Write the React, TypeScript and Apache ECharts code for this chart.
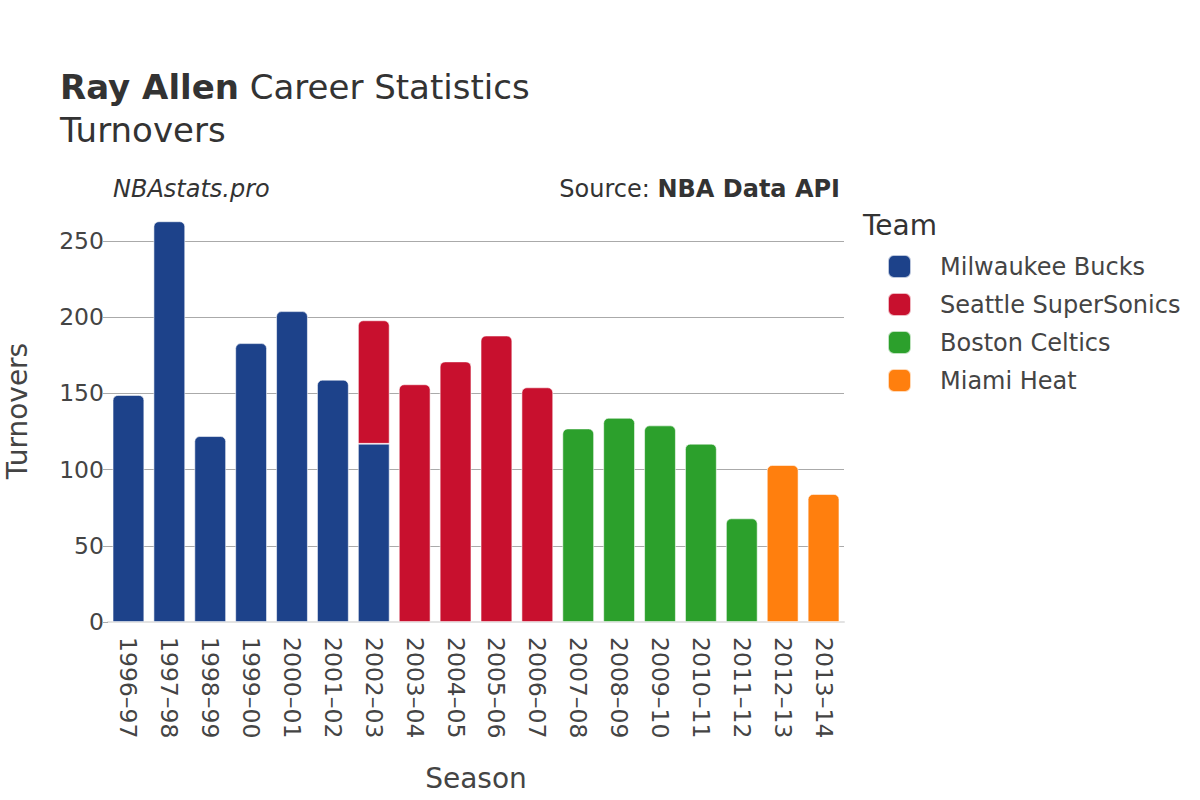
import React, { useEffect, useRef } from "react";
import * as echarts from "echarts";

const seasons = [
  "1996–97", "1997–98", "1998–99", "1999–00", "2000–01", "2001–02", "2002–03",
  "2003–04", "2004–05", "2005–06", "2006–07", "2007–08", "2008–09", "2009–10",
  "2010–11", "2011–12", "2012–13", "2013–14",
];
const teams = ["Milwaukee Bucks", "Seattle SuperSonics", "Boston Celtics", "Miami Heat"];
const teamColors = ["#1d428a", "#c8102e", "#2ca02c", "#ff7f0e"];
const milwaukee = [149, 263, 122, 183, 204, 159, 117, null, null, null, null, null, null, null, null, null, null, null];
const seattle = [null, null, null, null, null, null, 81, 156, 171, 188, 154, null, null, null, null, null, null, null];
const boston = [null, null, null, null, null, null, null, null, null, null, null, 127, 134, 129, 117, 68, null, null];
const miami = [null, null, null, null, null, null, null, null, null, null, null, null, null, null, null, null, 103, 84];
const yTicks = [0, 50, 100, 150, 200, 250];

const FONT = "DejaVu Sans";
const TXT = "#444";

export default function App() {
  const ref = useRef<HTMLDivElement>(null);
  useEffect(() => {
    if (!ref.current) return;
    const chart = echarts.init(ref.current, null, { renderer: "svg" });
    const seriesData = [milwaukee, seattle, boston, miami];
    const series = seriesData.map((arr, i) => ({
      name: teams[i],
      type: "bar",
      stack: "total",
      barCategoryGap: "22.6%",
      itemStyle: {
        color: teamColors[i],
        borderRadius: [5, 5, 0, 0],
        borderColor: "rgba(255,255,255,0.7)",
        borderWidth: 0.8,
      },
      data: arr.map((v, j) => {
        if (i === 0 && j === 6) return { value: v, itemStyle: { borderRadius: 0 } };
        return v;
      }),
    }));
    chart.setOption({
      animation: false,
      backgroundColor: "#fff",
      textStyle: { fontFamily: FONT },
      grid: { left: 108, right: 356, top: 200, bottom: 178, containLabel: false },
      legend: {
        left: 887,
        top: 254,
        orient: "vertical",
        icon: "roundRect",
        itemWidth: 23,
        itemHeight: 23,
        itemGap: 13,
        padding: 0,
        data: teams,
        textStyle: { fontFamily: FONT, fontSize: 24, color: TXT, lineHeight: 23, padding: [0, 0, 0, 24] },
      },
      xAxis: {
        type: "category",
        data: seasons,
        axisLine: { show: true, lineStyle: { color: "#e3e3e3", width: 2 } },
        axisTick: { show: false },
        axisLabel: { rotate: -90, margin: 15, fontSize: 23.5, color: TXT, fontFamily: FONT, interval: 0 },
      },
      yAxis: {
        type: "value",
        min: 0,
        max: 277,
        interval: 50,
        axisLine: { show: false },
        axisTick: { show: true, length: 5, lineStyle: { color: "#aaa" }, customValues: yTicks },
        axisLabel: { fontSize: 23.5, color: TXT, fontFamily: FONT, margin: 4, customValues: yTicks },
        splitLine: { show: true, lineStyle: { color: "#aaa", width: 1 } },
      },
      graphic: [
        {
          type: "text",
          left: 60,
          top: 70,
          style: {
            text: "{b|Ray Allen} Career Statistics",
            fontFamily: FONT,
            fontSize: 34,
            fill: "#333",
            rich: { b: { fontWeight: "bold", fontSize: 34, fontFamily: FONT, fill: "#333" } },
          },
        },
        {
          type: "text",
          left: 60,
          top: 113,
          style: { text: "Turnovers", fontFamily: FONT, fontSize: 34, fill: "#333" },
        },
        {
          type: "text",
          left: 113,
          top: 177,
          style: { text: "NBAstats.pro", fontFamily: FONT, fontSize: 24, fontStyle: "italic", fill: "#333" },
        },
        {
          type: "text",
          right: 360,
          top: 177,
          style: {
            text: "Source: {b|NBA Data API}",
            fontFamily: FONT,
            fontSize: 24,
            fill: "#333",
            rich: { b: { fontWeight: "bold", fontSize: 24, fontFamily: FONT, fill: "#333" } },
          },
        },
        {
          type: "text",
          left: 863,
          top: 211,
          style: { text: "Team", fontFamily: FONT, fontSize: 28, fill: "#333" },
        },
        {
          type: "text",
          x: 17,
          y: 411,
          rotation: Math.PI / 2,
          style: { text: "Turnovers", fontFamily: FONT, fontSize: 28, fill: "#444", align: "center", verticalAlign: "middle" },
        },
        {
          type: "text",
          x: 476,
          y: 778,
          style: { text: "Season", fontFamily: FONT, fontSize: 28, fill: "#444", align: "center", verticalAlign: "middle" },
        },
      ],
      series,
    });
    return () => chart.dispose();
  }, []);
  return <div ref={ref} style={{ position: "fixed", left: 0, top: 0, width: 1200, height: 800 }} />;
}
